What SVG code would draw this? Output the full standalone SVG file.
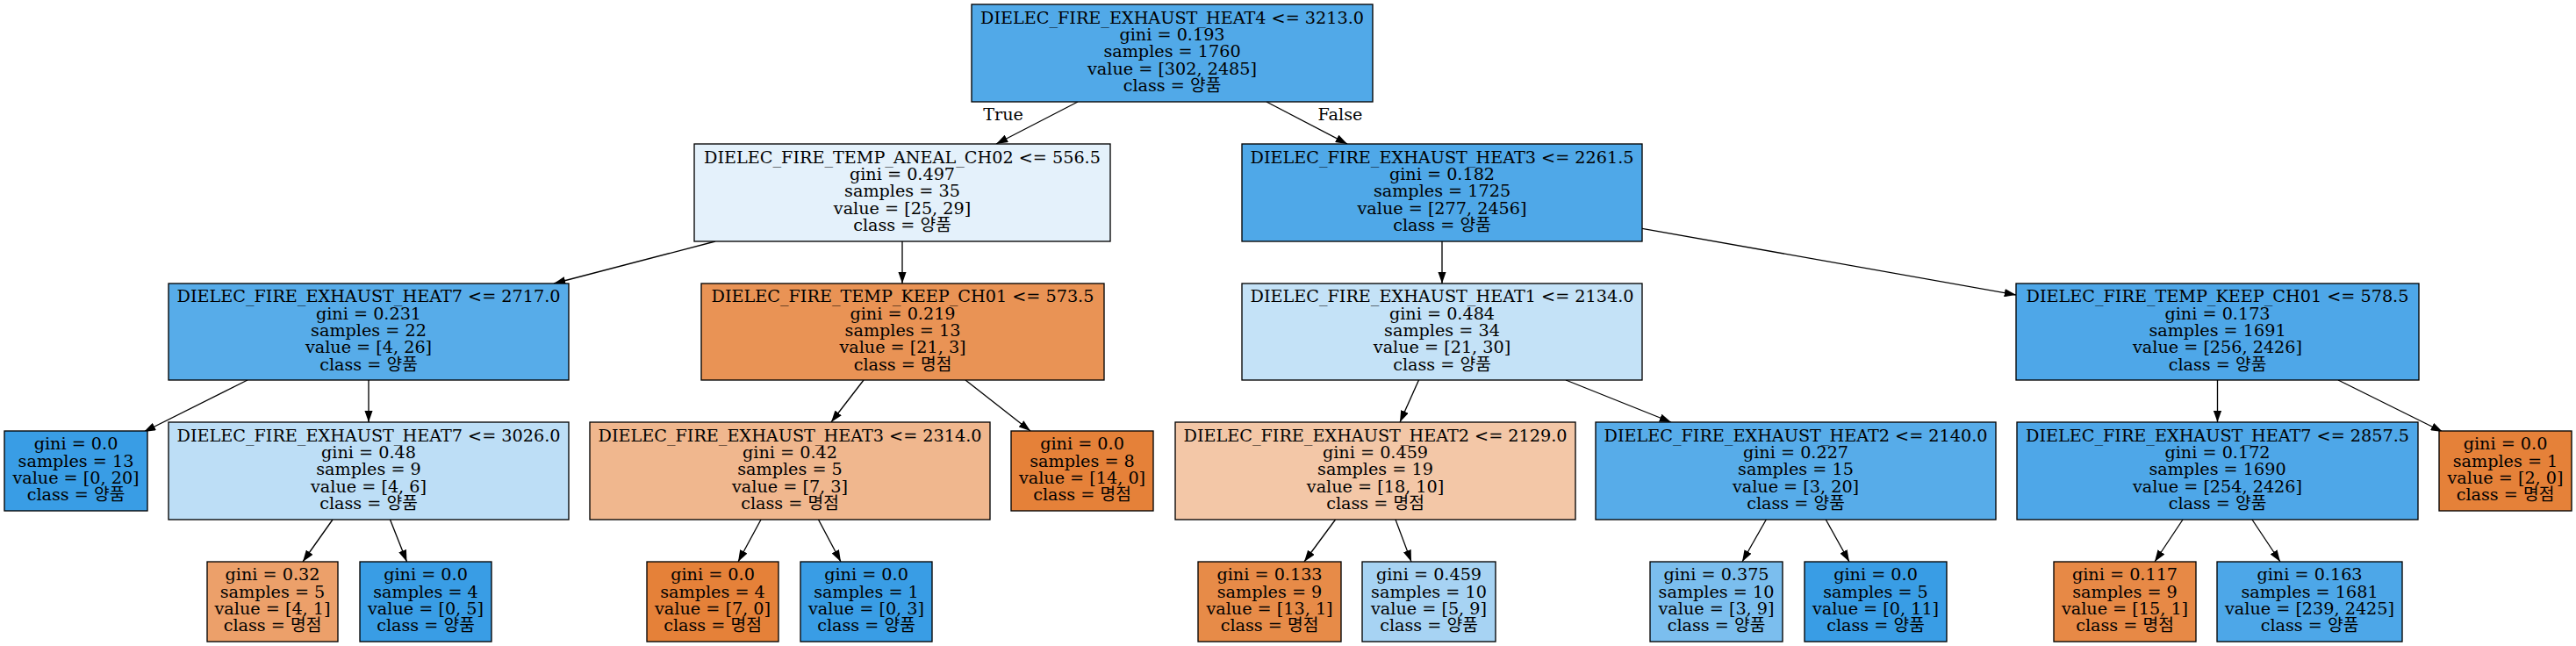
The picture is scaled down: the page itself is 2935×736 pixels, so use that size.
<svg xmlns="http://www.w3.org/2000/svg" width="2935" height="736" viewBox="0 0 2935 736">
<style>
.n rect{stroke:#000;stroke-width:1.33}
.n text{font-family:"DejaVu Serif","Noto Sans CJK KR",serif;font-size:19.2px;text-anchor:middle;fill:#000}
.e line{stroke:#000;stroke-width:1.33;marker-end:url(#ah)}
.lbl{font-family:"DejaVu Serif",serif;font-size:19.2px;text-anchor:middle;fill:#000}
</style>
<defs>
<marker id="ah" markerUnits="userSpaceOnUse" viewBox="0 0 13.3 9.3" markerWidth="13.3" markerHeight="9.3" refX="13.3" refY="4.65" orient="auto">
<path d="M0,0 L13.3,4.65 L0,9.3 z" fill="#000"/>
</marker>
</defs>
<rect width="2935" height="736" fill="#fff"/>
<g id="edges" class="e">
<line x1="1228" y1="116" x2="1135" y2="164"/>
<line x1="1443" y1="116" x2="1535" y2="164"/>
<line x1="815" y1="275" x2="631" y2="323"/>
<line x1="1028" y1="275" x2="1028" y2="323"/>
<line x1="1643" y1="275" x2="1643" y2="323"/>
<line x1="1871" y1="260.3" x2="2297" y2="336"/>
<line x1="282" y1="433" x2="164" y2="492"/>
<line x1="420" y1="433" x2="420" y2="481"/>
<line x1="984" y1="433" x2="947" y2="481"/>
<line x1="1100" y1="433" x2="1174" y2="491"/>
<line x1="1616.5" y1="433" x2="1595" y2="481"/>
<line x1="1784" y1="433" x2="1904" y2="481"/>
<line x1="2526.5" y1="433" x2="2526.5" y2="481"/>
<line x1="2664" y1="433" x2="2783" y2="492"/>
<line x1="379" y1="592" x2="345" y2="640"/>
<line x1="444.5" y1="592" x2="463.5" y2="640"/>
<line x1="867" y1="592" x2="841" y2="640"/>
<line x1="932.5" y1="592" x2="958" y2="640"/>
<line x1="1521.5" y1="592" x2="1486" y2="640"/>
<line x1="1590" y1="592" x2="1608" y2="640"/>
<line x1="2012.3" y1="592" x2="1985" y2="640"/>
<line x1="2080.3" y1="592" x2="2107" y2="640"/>
<line x1="2487" y1="592" x2="2455" y2="640"/>
<line x1="2566" y1="592" x2="2598" y2="640"/>
</g>
<text class="lbl" x="1143" y="137">True</text>
<text class="lbl" x="1527" y="137">False</text>

<g id="node0" class="n"><rect x="1107" y="5" width="457" height="111" fill="#51a9e8"/>
<text><tspan x="1335.5" y="26.6">DIELEC_FIRE_EXHAUST_HEAT4 &lt;= 3213.0</tspan><tspan x="1335.5" y="46">gini = 0.193</tspan><tspan x="1335.5" y="65.3">samples = 1760</tspan><tspan x="1335.5" y="84.6">value = [302, 2485]</tspan><tspan x="1335.5" y="104">class = 양품</tspan></text></g>

<g id="node1" class="n"><rect x="791" y="164" width="474" height="111" fill="#e4f1fb"/>
<text><tspan x="1028" y="185.6">DIELEC_FIRE_TEMP_ANEAL_CH02 &lt;= 556.5</tspan><tspan x="1028" y="205">gini = 0.497</tspan><tspan x="1028" y="224.3">samples = 35</tspan><tspan x="1028" y="243.6">value = [25, 29]</tspan><tspan x="1028" y="263">class = 양품</tspan></text></g>

<g id="node2" class="n"><rect x="1415" y="164" width="456" height="111" fill="#4fa8e8"/>
<text><tspan x="1643" y="185.6">DIELEC_FIRE_EXHAUST_HEAT3 &lt;= 2261.5</tspan><tspan x="1643" y="205">gini = 0.182</tspan><tspan x="1643" y="224.3">samples = 1725</tspan><tspan x="1643" y="243.6">value = [277, 2456]</tspan><tspan x="1643" y="263">class = 양품</tspan></text></g>

<g id="node3" class="n"><rect x="192" y="323" width="456" height="110" fill="#57ace9"/>
<text><tspan x="420" y="344.1">DIELEC_FIRE_EXHAUST_HEAT7 &lt;= 2717.0</tspan><tspan x="420" y="363.5">gini = 0.231</tspan><tspan x="420" y="382.8">samples = 22</tspan><tspan x="420" y="402.1">value = [4, 26]</tspan><tspan x="420" y="421.5">class = 양품</tspan></text></g>

<g id="node4" class="n"><rect x="799" y="323" width="459" height="110" fill="#e99355"/>
<text><tspan x="1028.5" y="344.1">DIELEC_FIRE_TEMP_KEEP_CH01 &lt;= 573.5</tspan><tspan x="1028.5" y="363.5">gini = 0.219</tspan><tspan x="1028.5" y="382.8">samples = 13</tspan><tspan x="1028.5" y="402.1">value = [21, 3]</tspan><tspan x="1028.5" y="421.5">class = 명점</tspan></text></g>

<g id="node5" class="n"><rect x="1415" y="323" width="456" height="110" fill="#c4e2f7"/>
<text><tspan x="1643" y="344.1">DIELEC_FIRE_EXHAUST_HEAT1 &lt;= 2134.0</tspan><tspan x="1643" y="363.5">gini = 0.484</tspan><tspan x="1643" y="382.8">samples = 34</tspan><tspan x="1643" y="402.1">value = [21, 30]</tspan><tspan x="1643" y="421.5">class = 양품</tspan></text></g>

<g id="node6" class="n"><rect x="2297" y="323" width="459" height="110" fill="#4ea7e8"/>
<text><tspan x="2526.5" y="344.1">DIELEC_FIRE_TEMP_KEEP_CH01 &lt;= 578.5</tspan><tspan x="2526.5" y="363.5">gini = 0.173</tspan><tspan x="2526.5" y="382.8">samples = 1691</tspan><tspan x="2526.5" y="402.1">value = [256, 2426]</tspan><tspan x="2526.5" y="421.5">class = 양품</tspan></text></g>

<g id="node7" class="n"><rect x="5" y="491" width="163" height="91" fill="#399de5"/>
<text><tspan x="86.5" y="512.3">gini = 0.0</tspan><tspan x="86.5" y="531.7">samples = 13</tspan><tspan x="86.5" y="551">value = [0, 20]</tspan><tspan x="86.5" y="570.3">class = 양품</tspan></text></g>

<g id="node8" class="n"><rect x="192" y="481" width="456" height="111" fill="#bddef6"/>
<text><tspan x="420" y="502.6">DIELEC_FIRE_EXHAUST_HEAT7 &lt;= 3026.0</tspan><tspan x="420" y="522">gini = 0.48</tspan><tspan x="420" y="541.3">samples = 9</tspan><tspan x="420" y="560.6">value = [4, 6]</tspan><tspan x="420" y="580">class = 양품</tspan></text></g>

<g id="node9" class="n"><rect x="672" y="481" width="456" height="111" fill="#f0b78e"/>
<text><tspan x="900" y="502.6">DIELEC_FIRE_EXHAUST_HEAT3 &lt;= 2314.0</tspan><tspan x="900" y="522">gini = 0.42</tspan><tspan x="900" y="541.3">samples = 5</tspan><tspan x="900" y="560.6">value = [7, 3]</tspan><tspan x="900" y="580">class = 명점</tspan></text></g>

<g id="node10" class="n"><rect x="1152" y="491" width="162" height="91" fill="#e58139"/>
<text><tspan x="1233" y="512.3">gini = 0.0</tspan><tspan x="1233" y="531.7">samples = 8</tspan><tspan x="1233" y="551">value = [14, 0]</tspan><tspan x="1233" y="570.3">class = 명점</tspan></text></g>

<g id="node11" class="n"><rect x="1339" y="481" width="456" height="111" fill="#f3c7a7"/>
<text><tspan x="1567" y="502.6">DIELEC_FIRE_EXHAUST_HEAT2 &lt;= 2129.0</tspan><tspan x="1567" y="522">gini = 0.459</tspan><tspan x="1567" y="541.3">samples = 19</tspan><tspan x="1567" y="560.6">value = [18, 10]</tspan><tspan x="1567" y="580">class = 명점</tspan></text></g>

<g id="node12" class="n"><rect x="1818" y="481" width="456" height="111" fill="#57ace9"/>
<text><tspan x="2046" y="502.6">DIELEC_FIRE_EXHAUST_HEAT2 &lt;= 2140.0</tspan><tspan x="2046" y="522">gini = 0.227</tspan><tspan x="2046" y="541.3">samples = 15</tspan><tspan x="2046" y="560.6">value = [3, 20]</tspan><tspan x="2046" y="580">class = 양품</tspan></text></g>

<g id="node13" class="n"><rect x="2298" y="481" width="457" height="111" fill="#4ea7e8"/>
<text><tspan x="2526.5" y="502.6">DIELEC_FIRE_EXHAUST_HEAT7 &lt;= 2857.5</tspan><tspan x="2526.5" y="522">gini = 0.172</tspan><tspan x="2526.5" y="541.3">samples = 1690</tspan><tspan x="2526.5" y="560.6">value = [254, 2426]</tspan><tspan x="2526.5" y="580">class = 양품</tspan></text></g>

<g id="node14" class="n"><rect x="2779" y="491" width="151" height="91" fill="#e58139"/>
<text><tspan x="2854.5" y="512.3">gini = 0.0</tspan><tspan x="2854.5" y="531.7">samples = 1</tspan><tspan x="2854.5" y="551">value = [2, 0]</tspan><tspan x="2854.5" y="570.3">class = 명점</tspan></text></g>

<g id="node15" class="n"><rect x="236" y="640" width="149" height="91" fill="#eca06a"/>
<text><tspan x="310.5" y="661.3">gini = 0.32</tspan><tspan x="310.5" y="680.7">samples = 5</tspan><tspan x="310.5" y="700">value = [4, 1]</tspan><tspan x="310.5" y="719.3">class = 명점</tspan></text></g>

<g id="node16" class="n"><rect x="410" y="640" width="150" height="91" fill="#399de5"/>
<text><tspan x="485" y="661.3">gini = 0.0</tspan><tspan x="485" y="680.7">samples = 4</tspan><tspan x="485" y="700">value = [0, 5]</tspan><tspan x="485" y="719.3">class = 양품</tspan></text></g>

<g id="node17" class="n"><rect x="737" y="640" width="150" height="91" fill="#e58139"/>
<text><tspan x="812" y="661.3">gini = 0.0</tspan><tspan x="812" y="680.7">samples = 4</tspan><tspan x="812" y="700">value = [7, 0]</tspan><tspan x="812" y="719.3">class = 명점</tspan></text></g>

<g id="node18" class="n"><rect x="912" y="640" width="150" height="91" fill="#399de5"/>
<text><tspan x="987" y="661.3">gini = 0.0</tspan><tspan x="987" y="680.7">samples = 1</tspan><tspan x="987" y="700">value = [0, 3]</tspan><tspan x="987" y="719.3">class = 양품</tspan></text></g>

<g id="node19" class="n"><rect x="1365" y="640" width="163" height="91" fill="#e78b48"/>
<text><tspan x="1446.5" y="661.3">gini = 0.133</tspan><tspan x="1446.5" y="680.7">samples = 9</tspan><tspan x="1446.5" y="700">value = [13, 1]</tspan><tspan x="1446.5" y="719.3">class = 명점</tspan></text></g>

<g id="node20" class="n"><rect x="1552" y="640" width="152" height="91" fill="#a7d3f3"/>
<text><tspan x="1628" y="661.3">gini = 0.459</tspan><tspan x="1628" y="680.7">samples = 10</tspan><tspan x="1628" y="700">value = [5, 9]</tspan><tspan x="1628" y="719.3">class = 양품</tspan></text></g>

<g id="node21" class="n"><rect x="1880" y="640" width="151" height="91" fill="#7bbeee"/>
<text><tspan x="1955.5" y="661.3">gini = 0.375</tspan><tspan x="1955.5" y="680.7">samples = 10</tspan><tspan x="1955.5" y="700">value = [3, 9]</tspan><tspan x="1955.5" y="719.3">class = 양품</tspan></text></g>

<g id="node22" class="n"><rect x="2056" y="640" width="162" height="91" fill="#399de5"/>
<text><tspan x="2137" y="661.3">gini = 0.0</tspan><tspan x="2137" y="680.7">samples = 5</tspan><tspan x="2137" y="700">value = [0, 11]</tspan><tspan x="2137" y="719.3">class = 양품</tspan></text></g>

<g id="node23" class="n"><rect x="2340" y="640" width="162" height="91" fill="#e78946"/>
<text><tspan x="2421" y="661.3">gini = 0.117</tspan><tspan x="2421" y="680.7">samples = 9</tspan><tspan x="2421" y="700">value = [15, 1]</tspan><tspan x="2421" y="719.3">class = 명점</tspan></text></g>

<g id="node24" class="n"><rect x="2526" y="640" width="211" height="91" fill="#4da7e8"/>
<text><tspan x="2631.5" y="661.3">gini = 0.163</tspan><tspan x="2631.5" y="680.7">samples = 1681</tspan><tspan x="2631.5" y="700">value = [239, 2425]</tspan><tspan x="2631.5" y="719.3">class = 양품</tspan></text></g>
</svg>
